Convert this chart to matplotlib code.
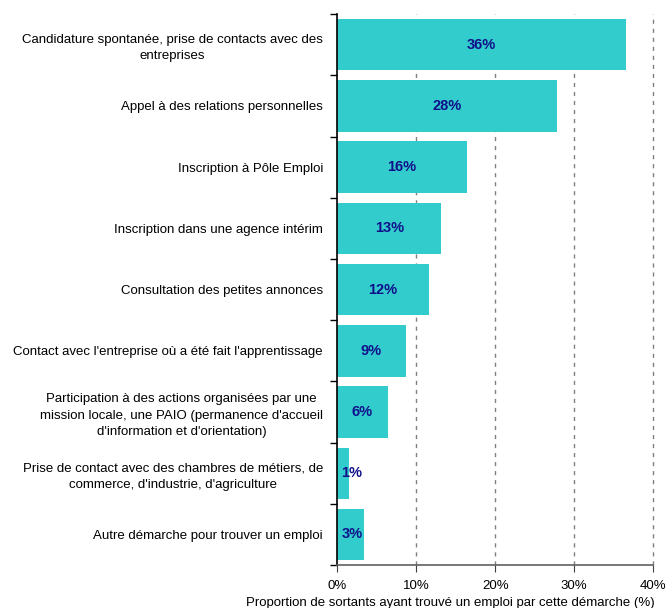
import numpy as np
import matplotlib
matplotlib.use('Agg')
import matplotlib.pyplot as plt

plt.rcParams['font.family'] = ['Liberation Sans', 'DejaVu Sans']

# Donnees
categories = [
    "Candidature spontanée, prise de contacts avec des\nentreprises",
    "Appel à des relations personnelles",
    "Inscription à Pôle Emploi",
    "Inscription dans une agence intérim",
    "Consultation des petites annonces",
    "Contact avec l'entreprise où a été fait l'apprentissage",
    "Participation à des actions organisées par une\nmission locale, une PAIO (permanence d'accueil\nd'information et d'orientation)",
    "Prise de contact avec des chambres de métiers, de\ncommerce, d'industrie, d'agriculture",
    "Autre démarche pour trouver un emploi",
]
valeurs = [36.6, 27.8, 16.4, 13.2, 11.6, 8.7, 6.4, 1.5, 3.4]
etiquettes = ["36%", "28%", "16%", "13%", "12%", "9%", "6%", "1%", "3%"]
xticks = [0, 10, 20, 30, 40]

C_BAR, C_TXT, C_GRID = '#33CCCC', '#10108A', '#808080'

fig = plt.figure(figsize=(6.7, 6.08), dpi=100)
ax = fig.add_axes([0.503, 0.0707, 0.472, 0.906])

y = np.arange(len(categories))
ax.barh(y, valeurs, height=0.84, color=C_BAR, zorder=2)

for yi, v, lab in zip(y, valeurs, etiquettes):
    ax.text(max(v / 2, 1.9), yi, lab, ha='center', va='center',
            fontsize=10.5, fontweight='bold', color=C_TXT, zorder=3)

ax.set_ylim(len(categories) - 0.5, -0.5)
ax.set_xlim(0, 40)

ax.set_yticks(y)
ax.set_yticklabels(categories, fontsize=9.5, multialignment='center', linespacing=1.45)
ax.tick_params(axis='y', which='major', length=0, pad=10)
ax.set_yticks(np.arange(-0.5, len(categories), 1), minor=True)
ax.tick_params(axis='y', which='minor', length=5, width=1, color='black', direction='out')

ax.set_xticks(xticks)
ax.set_xticklabels([f"{t}%" for t in xticks], fontsize=9.5)
ax.tick_params(axis='x', length=5, color='#404040', direction='out', pad=6)
ax.set_xlabel("Proportion de sortants ayant trouvé un emploi par cette démarche (%)",
              fontsize=9.5)
ax.xaxis.set_label_coords(0.357, -0.058)

# grille verticale en tirets (y compris a 40%)
for t in xticks[1:]:
    ax.axvline(t, color=C_GRID, linestyle=(0, (3, 3.5)), linewidth=1, zorder=1, clip_on=False)

for s in ['top', 'right']:
    ax.spines[s].set_visible(False)
ax.spines['left'].set_color('black')
ax.spines['left'].set_linewidth(1.2)
ax.spines['bottom'].set_color('#606060')
ax.spines['bottom'].set_linewidth(1.2)

plt.savefig('out.png', dpi=100)
